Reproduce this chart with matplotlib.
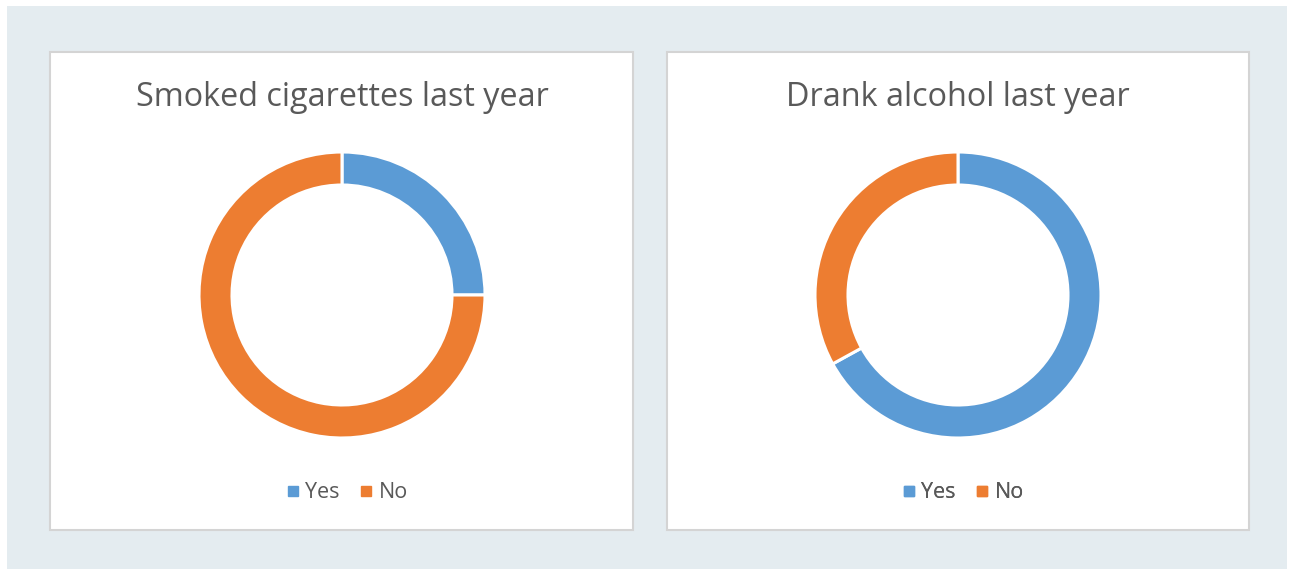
import matplotlib
matplotlib.use("Agg")
import matplotlib.pyplot as plt
from matplotlib.patches import Rectangle
from matplotlib.lines import Line2D

# data
labels = ["Yes", "No"]
titles = ["Smoked cigarettes last year", "Drank alcohol last year"]
smoked = [25, 75]
drank = [67, 33]
colors = ["#5B9BD5", "#ED7D31"]

W, H = 1293, 574
plt.rcParams["font.family"] = ["Open Sans", "DejaVu Sans"]

fig = plt.figure(figsize=(W / 100, H / 100), dpi=100)
fig.patch.set_facecolor("white")
ax = fig.add_axes([0, 0, 1, 1])

def y(v):
    return H - v

# outer background and the two white panels
ax.add_patch(Rectangle((7, y(569)), 1280, 563, facecolor="#E4ECF0", edgecolor="none", zorder=0))
panels = [(50, 52, 583, 478), (667, 52, 582, 478)]
for px, py, pw, ph in panels:
    ax.add_patch(Rectangle((px, y(py + ph)), pw, ph, facecolor="white",
                           edgecolor="#D4D4D4", linewidth=1.5, zorder=1))

centres = [342, 958]
for cx, title, vals in zip(centres, titles, [smoked, drank]):
    ax.pie(vals, colors=colors, startangle=90, counterclock=False,
           center=(cx, y(295)), radius=143, frame=True,
           wedgeprops=dict(width=33, edgecolor="white", linewidth=2.2))
    ax.text(cx, y(98), title, ha="center", va="center", fontsize=23.3, color="#595959")

ax.set_xlim(0, W)
ax.set_ylim(0, H)
ax.set_aspect("equal")
ax.axis("off")

handles = [Line2D([], [], marker="s", linestyle="none", markersize=7,
                  markerfacecolor=c, markeredgecolor=c) for c in colors]
for cx in centres:
    leg = ax.legend(handles, labels, loc="center", ncol=2, frameon=False,
                    bbox_to_anchor=((cx + 5) / W, 1 - 493 / H), bbox_transform=fig.transFigure,
                    fontsize=15.5, handletextpad=0.3, columnspacing=0.9,
                    labelcolor="#595959", handlelength=0.6)
    ax.add_artist(leg)

fig.savefig("out.png", dpi=100, facecolor="white")
